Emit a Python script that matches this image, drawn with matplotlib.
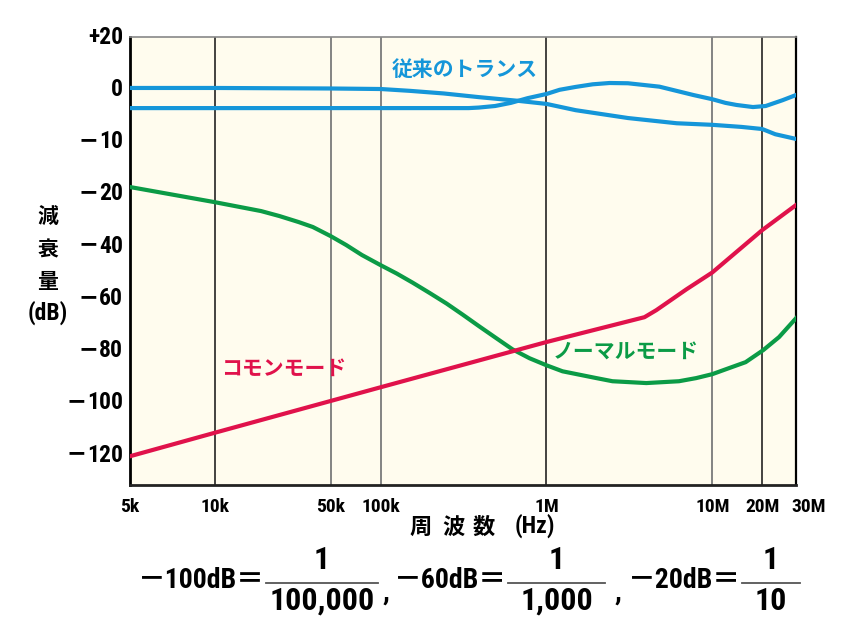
import numpy as np
import matplotlib.pyplot as plt
from matplotlib.lines import Line2D
from matplotlib.transforms import offset_copy

# ---- data (frequency in Hz, attenuation in dB) ----
trans_a_f = [5e3, 1e4, 5e4, 1e5, 1.5e5, 2.4e5, 3.9e5, 6.7e5, 1e6, 1.5e6, 3.1e6, 6.1e6, 1e7, 1.5e7, 2e7, 2.4e7, 3.2e7]
trans_a_db = [0.5, 0.5, 0.3, 0.1, -0.3, -0.8, -1.5, -2.2, -2.8, -4.0, -5.5, -6.5, -6.8, -7.2, -7.6, -8.6, -9.5]

trans_b_f = [5e3, 1e4, 1e5, 3.4e5, 3.9e5, 4.9e5, 6.1e5, 7.7e5, 1e6, 1.2e6, 1.5e6, 1.9e6, 2.4e6, 3.1e6,
             4.8e6, 7.7e6, 1e7, 1.2e7, 1.4e7, 1.76e7, 2.1e7, 2.65e7, 3.2e7]
trans_b_db = [-3.6, -3.6, -3.6, -3.6, -3.5, -3.2, -2.6, -1.7, -0.9, -0.1, 0.9, 1.9, 2.4, 2.3,
              1.0, -1.1, -1.9, -2.6, -3.0, -3.4, -3.2, -2.1, -1.1]

normal_f = [5e3, 1e4, 1.9e4, 2.45e4, 3.2e4, 3.9e4, 5e4, 6.2e4, 7.7e4, 1e5, 1.25e5, 1.56e5, 1.97e5, 2.5e5,
            3.12e5, 3.95e5, 5e5, 6.24e5, 7.9e5, 1e6, 1.25e6, 2e6, 2.5e6, 4e6, 6.3e6, 8e6, 1e7,
            1.26e7, 1.59e7, 2.03e7, 2.53e7, 3.2e7]
normal_db = [-18.7, -23.2, -26.6, -28.5, -30.8, -32.7, -36.2, -39.6, -43.4, -47.3, -50.5, -54.0, -57.9, -62.0,
             -66.2, -70.8, -75.3, -79.5, -82.9, -85.6, -87.9, -90.5, -91.7, -92.4, -91.7, -90.5, -89.0,
             -86.7, -84.4, -79.8, -74.8, -67.6]

common_f = [5e3, 1e4, 1e5, 1e6, 3.9e6, 4.6e6, 7e6, 1e7, 2e7, 3.2e7]
common_db = [-120.4, -111.4, -94.0, -76.7, -67.2, -64.5, -56.5, -50.1, -33.9, -24.3]

ytick_vals = [20, 0, -10, -20, -40, -60, -80, -100, -120]
ytick_labels = ['+20', '0', '−10', '−20', '−40', '−60', '−80', '−100', '−120']
xtick_vals = [5e3, 1e4, 5e4, 1e5, 1e6, 1e7, 2e7]
xtick_labels = ['5k', '10k', '50k', '100k', '1M', '10M', '20M']
last_tick = '30M'
grid_dark = [1e4, 1e6, 2e7]
grid_light = [5e4, 1e5, 1e7]

# bottom note: (left text, numerator, denominator, bar start px, bar end px)
notes = [('－100dB＝', '1', '100,000', 266, 378),
         ('－60dB＝', '1', '1,000', 508, 605),
         ('－20dB＝', '1', '10', 742, 800)]
comma_x = [383, 615]

BLUE = '#1596d9'
GREEN = '#0b9b46'
RED = '#e0124b'
CREAM = '#fffcee'

NUM_FONT = ['Roboto Condensed', 'Noto Sans CJK JP', 'DejaVu Sans']
JP_FONT = ['Noto Sans CJK JP', 'DejaVu Sans']
NUM = dict(family=NUM_FONT, fontweight='bold')

# ---- axis scales: the original chart is schematic, not strictly log/linear ----
K = (85 / 166) / np.log10(2)  # 5k..10k is stretched

def fwd_x(x):
    lx = np.log10(np.maximum(x, 1e-12))
    return np.where(lx < 4, 4 - (4 - lx) * K, lx)

def inv_x(u):
    return 10 ** np.where(u < 4, 4 - (4 - u) / K, u)

ext_vals = [40] + ytick_vals + [-140]
ext_idx = np.arange(-1, len(ytick_vals) + 1)

def fwd_y(v):
    return -np.interp(v, ext_vals[::-1], ext_idx[::-1])

def inv_y(u):
    return np.interp(-np.asarray(u), ext_idx, ext_vals)

fig = plt.figure(figsize=(8.64, 6.39), dpi=100)
ax = fig.add_axes([130 / 864, 1 - 485 / 639, 666 / 864, 448 / 639])
ax.set_facecolor(CREAM)
ax.set_xscale('function', functions=(fwd_x, inv_x))
ax.set_yscale('function', functions=(fwd_y, inv_y))
ax.set_xlim(5e3, 3.2e7)
ax.set_ylim(-131.4, 20)

for g in grid_dark:
    ax.axvline(g, color='#111111', lw=1.1, zorder=1)
for g in grid_light:
    ax.axvline(g, color='#7a7a7a', lw=1.3, zorder=1)

ax.plot(trans_a_f, trans_a_db, color=BLUE, lw=3, zorder=3, solid_joinstyle='round')
ax.plot(trans_b_f, trans_b_db, color=BLUE, lw=3, zorder=3, solid_joinstyle='round')
ax.plot(normal_f, normal_db, color=GREEN, lw=3, zorder=3, solid_joinstyle='round')
ax.plot(common_f, common_db, color=RED, lw=3, zorder=3, solid_joinstyle='round')

ax.text(3.2e5, 7.4, '従来のトランス', color=BLUE, fontsize=15, fontweight='bold',
        family=JP_FONT, ha='center', va='center')
ax.text(2.6e4, -86.7, 'コモンモード', color=RED, fontsize=15, fontweight='bold',
        family=JP_FONT, ha='center', va='center')
ax.text(3.0e6, -80.6, 'ノーマルモード', color=GREEN, fontsize=15, fontweight='bold',
        family=JP_FONT, ha='center', va='center')

ax.xaxis.set_minor_locator(plt.NullLocator())
ax.yaxis.set_minor_locator(plt.NullLocator())
ax.set_xticks(xtick_vals)
ax.set_xticklabels(xtick_labels, fontsize=14, **NUM)
ax.set_yticks(ytick_vals)
ax.set_yticklabels([])
ax.tick_params(axis='x', length=0, pad=9)
ax.tick_params(axis='y', length=0)
# the last label sits a little right of the frame in the original
tr = offset_copy(ax.get_xaxis_transform(), fig=fig, x=9, y=-9, units='points')
ax.text(3.2e7, 0, last_tick, transform=tr, fontsize=14, ha='center', va='top', **NUM)

# y tick labels drawn by hand so the minus sign can be a long dash
ytr = offset_copy(ax.get_yaxis_transform(), fig=fig, x=-5, y=0, units='points')
for v, lab in zip(ytick_vals, ytick_labels):
    digits = lab.lstrip('−')
    t = ax.text(0, v, digits, transform=ytr, fontsize=17, ha='right', va='center',
                clip_on=False, zorder=2, **NUM)
    if lab.startswith('−'):
        ax.annotate('−', xy=(0, 0.5), xycoords=t, xytext=(-0.5, 1.2), textcoords='offset points',
                    fontsize=17, fontweight='bold', family='DejaVu Sans',
                    ha='right', va='center', annotation_clip=False, zorder=4)

ax.spines['left'].set_linewidth(2)
ax.spines['bottom'].set_linewidth(2)
ax.spines['bottom'].set_color('#222222')
ax.spines['right'].set_linewidth(1.6)
ax.spines['top'].set_linewidth(1.2)
ax.spines['top'].set_color('#888888')

# y label, stacked vertically
for s, y in [('減', 216), ('衰', 250), ('量', 281)]:
    fig.text(48 / 864, 1 - y / 639, s, fontsize=15, fontweight='bold', family=JP_FONT,
             ha='center', va='center')
fig.text(48 / 864, 1 - 313 / 639, '(dB)', fontsize=17, ha='center', va='center', **NUM)

# x label
for s, x in [('周', 421), ('波', 453), ('数', 484)]:
    fig.text(x / 864, 1 - 527 / 639, s, fontsize=16, fontweight='bold', family=JP_FONT,
             ha='center', va='center')
fig.text(535 / 864, 1 - 526 / 639, '(Hz)', fontsize=17, ha='center', va='center', **NUM)

# formula line at the bottom
for lhs, num, den, x0, x1 in notes:
    xc = (x0 + x1) / 2
    fig.add_artist(Line2D([x0 / 864, x1 / 864], [1 - 583 / 639] * 2, color='#555555',
                          lw=1.3, transform=fig.transFigure))
    fig.text((x0 - 1) / 864, 1 - 588 / 639, lhs, fontsize=20, ha='right', va='baseline', **NUM)
    fig.text(xc / 864, 1 - 569 / 639, num, fontsize=23, ha='center', va='baseline', **NUM)
    fig.text(xc / 864, 1 - 610 / 639, den, fontsize=23, ha='center', va='baseline', **NUM)
for cx in comma_x:
    fig.text(cx / 864, 1 - 600 / 639, ',', fontsize=20, ha='left', va='baseline', **NUM)

fig.savefig('out.png', dpi=100, facecolor='white')
